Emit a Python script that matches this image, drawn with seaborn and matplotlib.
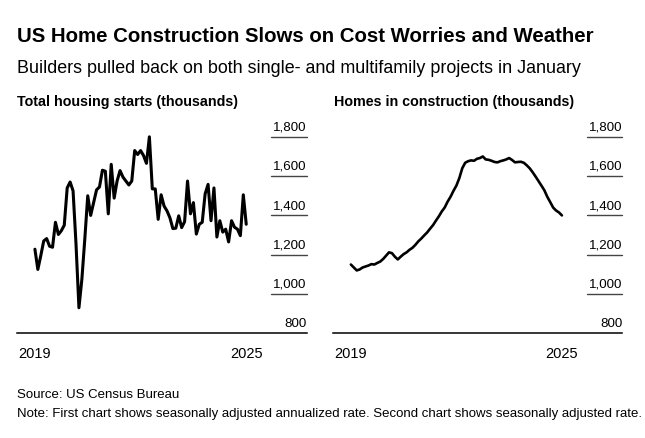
"""
US housing starts vs homes under construction, 2019-2025
"""
import numpy as np
import pandas as pd
import matplotlib
matplotlib.use("Agg")
import matplotlib.pyplot as plt
import matplotlib.transforms as mtransforms
import seaborn as sns

# Monthly values, Jan 2019 .. Jan 2025 (thousands)
housing_starts = [
    1228, 1125, 1195, 1270, 1282, 1243, 1238, 1365, 1303, 1322, 1350, 1540,
    1570, 1525, 1255, 930, 1075, 1280, 1500, 1400, 1465, 1530, 1545, 1630,
    1625, 1408, 1660, 1488, 1575, 1628, 1595, 1575, 1555, 1575, 1730, 1710,
    1730, 1705, 1665, 1800, 1535, 1535, 1380, 1505, 1448, 1423, 1388, 1333,
    1335, 1398, 1338, 1368, 1575, 1408, 1465, 1305, 1355, 1365, 1510, 1558,
    1373, 1540, 1290, 1373, 1315, 1330, 1265, 1373, 1340, 1330, 1297, 1505,
    1355,
]
under_construction = [
    1150, 1135, 1120, 1125, 1135, 1140, 1145, 1152, 1150, 1158, 1165, 1178,
    1195, 1212, 1208, 1190, 1176, 1190, 1203, 1212, 1225, 1235, 1250, 1268,
    1282, 1298, 1313, 1332, 1350, 1373, 1395, 1420, 1440, 1470, 1495, 1525,
    1552, 1590, 1640, 1668, 1676, 1680, 1678, 1688, 1692, 1700, 1685, 1683,
    1678, 1672, 1670, 1676, 1680, 1685, 1692, 1682, 1670, 1672, 1673, 1668,
    1655, 1640, 1620, 1598, 1575, 1552, 1528, 1495, 1468, 1440, 1425, 1415,
    1400,
]
year_ticks = [0, 72]
year_labels = ["2019", "2025"]
y_values = [800, 1000, 1200, 1400, 1600, 1800]
panel_titles = ["Total housing starts (thousands)", "Homes in construction (thousands)"]

months = np.arange(len(housing_starts))
df = pd.DataFrame({"month": months,
                   "starts": housing_starts,
                   "construction": under_construction})

sns.set_style("white")
plt.rcParams["font.family"] = ["Liberation Sans", "DejaVu Sans"]
plt.rcParams["text.color"] = "black"
plt.rcParams["xtick.labelcolor"] = "black"

W, H = 645, 439
fig = plt.figure(figsize=(W / 100, H / 100), dpi=100)


def px_axes(x0, y_top, width, height):
    return fig.add_axes([x0 / W, 1 - (y_top + height) / H, width / W, height / H])


ax1 = px_axes(17.3, 128, 289.4, 206.3)
ax2 = px_axes(333.3, 128, 289.0, 206.3)

for ax, col, lw in [(ax1, "starts", 2.2), (ax2, "construction", 1.9)]:
    sns.lineplot(data=df, x="month", y=col, ax=ax, color="black", linewidth=lw)
    ax.set_xlim(-6, 92.6)
    ax.set_ylim(800, 1850)
    ax.set_xlabel("")
    ax.set_ylabel("")
    for s in ["top", "right", "left"]:
        ax.spines[s].set_visible(False)
    ax.spines["bottom"].set_color("black")
    ax.spines["bottom"].set_linewidth(1.1)
    ax.set_yticks([])
    ax.set_xticks(year_ticks)
    ax.set_xticklabels(year_labels, fontsize=10.5)
    ax.tick_params(axis="x", direction="out", length=4, width=1,
                   color="#888888", labelcolor="black", pad=5)

    # short stubs plus value labels on the right
    trans = mtransforms.blended_transform_factory(ax.transAxes, ax.transData)
    for v in y_values:
        if v > 800:
            ax.plot([0.877, 1.0], [v, v], transform=trans, color="#444444",
                    linewidth=1.0, clip_on=False)
        ax.annotate(f"{v:,}", xy=(1.0, v), xycoords=trans,
                    xytext=(0, 5.3), textcoords="offset points",
                    ha="right", va="baseline", fontsize=9.6, color="black")

fig.text(17 / W, 1 - 42 / H, "US Home Construction Slows on Cost Worries and Weather",
         fontsize=14.7, fontweight="bold", ha="left", va="baseline")
fig.text(17 / W, 1 - 73 / H,
         "Builders pulled back on both single- and multifamily projects in January",
         fontsize=12.85, ha="left", va="baseline")
fig.text(17 / W, 1 - 106 / H, panel_titles[0], fontsize=10.25,
         fontweight="bold", ha="left", va="baseline")
fig.text(333.5 / W, 1 - 106 / H, panel_titles[1], fontsize=10.25,
         fontweight="bold", ha="left", va="baseline")
fig.text(17 / W, 1 - 398 / H, "Source: US Census Bureau",
         fontsize=9.5, ha="left", va="baseline")
fig.text(17 / W, 1 - 417 / H,
         "Note: First chart shows seasonally adjusted annualized rate. "
         "Second chart shows seasonally adjusted rate.",
         fontsize=9.5, ha="left", va="baseline")

fig.savefig("out.png", dpi=100)
